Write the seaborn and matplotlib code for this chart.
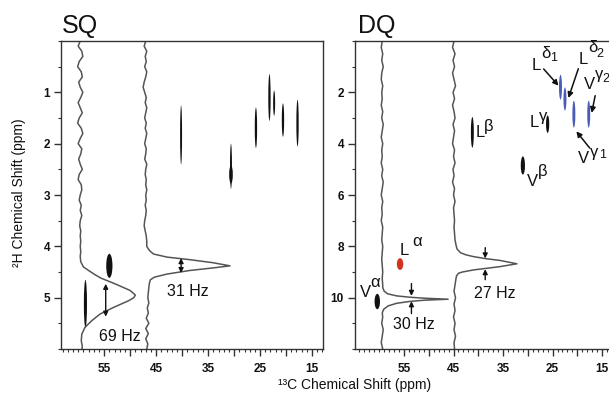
import numpy as np
import pandas as pd
import matplotlib
matplotlib.use("Agg")
import matplotlib.pyplot as plt
import seaborn as sns
from matplotlib.patches import Ellipse
from matplotlib.ticker import MultipleLocator, FixedLocator, FuncFormatter

# ---------------- data ----------------
# SQ panel, 1D slice traces: y = 2H shift (ppm), x = drawn 13C position (ppm)
sq1_y = [0.0, 0.1, 0.2, 0.3, 0.4, 0.5, 0.6, 0.7, 0.8, 0.9, 1.0, 1.1, 1.2, 1.3, 1.4,
         1.5, 1.6, 1.7, 1.8, 1.9, 2.0, 2.1, 2.2, 2.3, 2.4, 2.5, 2.6, 2.7, 2.8, 2.9,
         3.0, 3.1, 3.2, 3.3, 3.4, 3.5, 3.6, 3.7, 3.8, 3.9, 4.0, 4.1, 4.2,
         4.30, 4.40, 4.47, 4.55, 4.62, 4.73, 4.86, 4.95, 5.00, 5.06, 5.19, 5.32,
         5.45, 5.58, 5.71, 5.84, 5.95, 6.02]
sq1_x = [59.6, 60.0, 59.3, 59.1, 59.8, 60.1, 59.4, 59.2, 59.9, 59.6, 59.1, 59.5, 60.0,
         59.6, 59.2, 59.8, 60.1, 59.4, 59.1, 59.6, 60.0, 59.3, 59.5, 59.9, 59.6, 59.2,
         59.8, 60.0, 59.4, 59.3, 59.6, 59.8, 59.4, 59.6, 59.3, 59.6, 59.7, 59.5, 59.6,
         59.5, 59.6, 59.5, 59.6,
         59.5, 59.0, 58.0, 56.8, 55.6, 52.9, 50.0, 49.0, 49.3, 50.3, 53.2, 55.8,
         57.4, 58.7, 59.3, 59.4, 59.2, 59.3]

sq2_y = [0.0, 0.1, 0.2, 0.3, 0.4, 0.5, 0.6, 0.7, 0.8, 0.9, 1.0, 1.1, 1.2, 1.3, 1.4,
         1.5, 1.6, 1.7, 1.8, 1.9, 2.0, 2.1, 2.2, 2.3, 2.4, 2.5, 2.6, 2.7, 2.8, 2.9,
         3.0, 3.1, 3.2, 3.3, 3.4, 3.5, 3.6, 3.7, 3.8, 3.9,
         4.00, 4.05, 4.10, 4.15, 4.21, 4.26, 4.32, 4.38, 4.42, 4.47, 4.54, 4.60,
         4.65, 4.72, 4.80,
         4.9, 5.0, 5.1, 5.2, 5.3, 5.4, 5.5, 5.6, 5.7, 5.8, 5.9, 6.0]
sq2_x = [47.0, 47.3, 46.8, 47.1, 46.9, 47.2, 46.8, 47.0, 47.3, 47.5, 47.2, 46.9, 47.1,
         46.8, 47.0, 47.2, 46.9, 47.1, 46.8, 47.0, 47.2, 46.9, 47.0, 47.2, 46.8, 47.0,
         47.1, 46.9, 47.0, 46.8, 47.0, 46.9, 47.1, 46.9, 47.0, 47.2, 47.3, 47.1, 46.9,
         46.8,
         46.8, 46.5, 46.1, 45.5, 42.9, 38.5, 34.0, 30.8, 34.0, 38.5, 42.9, 45.3,
         46.1, 46.3, 46.4,
         46.5, 46.6, 46.4, 46.7, 46.5, 46.9, 46.4, 47.0, 46.5, 47.0, 46.6, 46.8]

# DQ panel traces
dq1_y = [0.0, 0.25, 0.5, 0.75, 1.0, 1.25, 1.5, 1.75, 2.0, 2.25, 2.5, 2.75, 3.0, 3.25,
         3.5, 3.75, 4.0, 4.25, 4.5, 4.75, 5.0, 5.25, 5.5, 5.75, 6.0, 6.25, 6.5, 6.75,
         7.0, 7.25, 7.5, 7.75, 8.0, 8.25, 8.5, 8.75, 9.0, 9.25, 9.5,
         9.60, 9.75, 9.85, 9.93, 9.98, 10.02, 10.06, 10.10, 10.15, 10.22, 10.32,
         10.45, 10.60,
         10.75, 11.0, 11.25, 11.5, 11.75, 12.0]
dq1_x = [59.4, 59.6, 59.3, 59.5, 59.2, 59.5, 59.6, 59.3, 59.5, 59.4, 59.6, 59.3, 59.5,
         59.2, 59.4, 59.6, 59.3, 59.5, 59.4, 59.6, 59.3, 59.5, 59.2, 59.4, 59.6, 59.3,
         59.5, 59.4, 59.6, 59.3, 59.4, 59.5, 59.3, 59.4, 59.5, 59.4, 59.3, 59.4, 59.3,
         59.3, 59.0, 58.3, 56.5, 54.0, 51.0, 46.1, 51.0, 54.0, 56.5, 58.2,
         59.1, 59.4,
         59.3, 59.5, 59.2, 59.4, 59.6, 59.3]

dq2_y = [0.0, 0.25, 0.5, 0.75, 1.0, 1.25, 1.5, 1.75, 2.0, 2.25, 2.5, 2.75, 3.0, 3.25,
         3.5, 3.75, 4.0, 4.25, 4.5, 4.75, 5.0, 5.25, 5.5, 5.75, 6.0, 6.25, 6.5, 6.75,
         7.0, 7.25, 7.5,
         7.75, 7.95, 8.10, 8.25, 8.33, 8.40, 8.48, 8.55, 8.68, 8.79, 8.86, 8.92, 9.00,
         9.05, 9.15, 9.25,
         9.5, 9.75, 10.0, 10.25, 10.5, 10.75, 11.0, 11.25, 11.5, 11.75, 12.0]
dq2_x = [44.9, 45.2, 44.7, 45.1, 44.8, 45.2, 44.9, 44.6, 45.1, 44.8, 45.2, 44.9, 44.7,
         45.1, 44.8, 45.0, 45.2, 44.8, 45.0, 44.7, 45.1, 44.9, 45.2, 44.8, 45.0, 44.7,
         45.0, 44.9, 44.8, 44.9, 44.8,
         44.7, 44.5, 44.3, 43.6, 42.5, 41.0, 38.5, 35.6, 32.2, 35.6, 38.5, 41.0, 43.2,
         44.0, 44.4, 44.5,
         44.7, 44.9, 44.6, 44.9, 44.7, 45.0, 44.7, 44.9, 44.6, 44.9, 44.8]

# cross peaks: centre (13C, 2H), extent (ppm)
sq_pk_x = [58.6, 54.0, 40.2, 30.6, 30.6, 25.8, 23.2, 22.3, 20.6, 17.8]
sq_pk_y = [5.12, 4.38, 1.83, 2.44, 2.60, 1.69, 1.10, 1.21, 1.54, 1.60]
sq_pk_w = [0.6, 1.2, 0.38, 0.38, 0.7, 0.45, 0.45, 0.38, 0.45, 0.45]
sq_pk_h = [0.93, 0.47, 1.15, 0.88, 0.35, 0.79, 0.91, 0.49, 0.65, 0.91]

dq_pk_x = [60.4, 55.8, 41.2, 26.0, 31.0, 23.4, 22.5, 20.7, 17.7]
dq_pk_y = [10.15, 8.69, 3.56, 3.24, 4.85, 1.80, 2.26, 2.85, 2.85]
dq_pk_w = [1.1, 1.3, 0.6, 0.65, 0.85, 0.6, 0.6, 0.6, 0.6]
dq_pk_h = [0.60, 0.46, 1.20, 0.68, 0.71, 0.97, 0.90, 1.05, 1.05]
dq_pk_c = ["#111111", "#d3321f", "#111111", "#111111", "#111111",
           "#4a5cb8", "#4a5cb8", "#4a5cb8", "#4a5cb8"]

# peak labels in DQ panel
dq_lab_t = ["V", "α", "L", "α", "L", "β", "L", "γ", "V", "β",
            "L", "δ", "1", "L", "δ", "2", "V", "γ", "2", "V", "γ", "1"]
dq_lab_x = [62.7, 60.8, 54.9, 52.4, 39.6, 38.0, 28.8, 26.9, 29.1, 27.0,
            28.2, 26.3, 24.9, 18.9, 16.8, 15.4, 17.5, 15.6, 14.3, 18.8, 16.6, 14.9]
dq_lab_y = [9.79, 9.40, 8.17, 7.81, 3.55, 3.32, 3.19, 2.95, 5.47, 5.08,
            0.95, 0.49, 0.68, 0.71, 0.25, 0.49, 1.70, 1.31, 1.50, 4.59, 4.33, 4.46]
dq_lab_s = [12, 12, 12, 12, 12, 12, 12, 12, 12, 12,
            12, 12, 9, 12, 12, 9, 12, 12, 9, 12, 12, 9]

# pointer arrows (tail -> head)
dq_ptr = [((26.8, 1.09), (23.8, 1.74)), ((19.8, 1.08), (21.8, 2.22)),
          ((16.4, 2.13), (17.1, 2.80)), ((17.5, 4.17), (20.2, 3.52))]

# linewidth markers
sq_hz_text = ["69 Hz", "31 Hz"]
sq_hz_tx = [51.9, 38.9]
sq_hz_ty = [5.75, 4.88]
sq_hz_ax = [54.7, 40.2]
sq_hz_a0 = [4.73, 4.23]
sq_hz_a1 = [5.37, 4.52]

dq_hz_text = ["30 Hz", "27 Hz"]
dq_hz_tx = [53.1, 36.6]
dq_hz_ty = [11.05, 9.83]
dq_hz_ax = [53.5, 38.6]
dq_hz_top = [(9.45, 9.93), (8.05, 8.47)]
dq_hz_bot = [(10.62, 10.14), (9.30, 8.89)]

# ---------------- style ----------------
sns.set_theme(style="ticks")
plt.rcParams["font.family"] = ["Liberation Sans", "DejaVu Sans"]
plt.rcParams["axes.edgecolor"] = "#333333"
plt.rcParams["axes.linewidth"] = 1.0

fig = plt.figure(figsize=(6.09, 3.95), dpi=100)
W, H = 609.0, 395.0
ax1 = fig.add_axes([61 / W, 1 - 349 / H, 262 / W, 308 / H])
ax2 = fig.add_axes([355 / W, 1 - 349 / H, 257 / W, 308 / H])

trace_col = "#555555"


def draw_trace(ax, xs, ys):
    df = pd.DataFrame({"c13": xs, "h2": ys})
    sns.lineplot(data=df, x="c13", y="h2", sort=False, estimator=None, orient="y",
                 ax=ax, color=trace_col, lw=1.1)


draw_trace(ax1, sq1_x, sq1_y)
draw_trace(ax1, sq2_x, sq2_y)
draw_trace(ax2, dq1_x, dq1_y)
draw_trace(ax2, dq2_x, dq2_y)

for x, y, w, h in zip(sq_pk_x, sq_pk_y, sq_pk_w, sq_pk_h):
    ax1.add_patch(Ellipse((x, y), w, h, facecolor="#111111", edgecolor="none"))
for x, y, w, h, c in zip(dq_pk_x, dq_pk_y, dq_pk_w, dq_pk_h, dq_pk_c):
    ax2.add_patch(Ellipse((x, y), w, h, facecolor=c, edgecolor="none"))

for t, x, y, s in zip(dq_lab_t, dq_lab_x, dq_lab_y, dq_lab_s):
    ax2.text(x, y, t, fontsize=s, ha="center", va="center", color="#111111", clip_on=False)

ptr_props = dict(arrowstyle="-|>", color="#111111", lw=1.1, mutation_scale=8,
                 shrinkA=0, shrinkB=0)
for tail, head in dq_ptr:
    ax2.annotate("", xy=head, xytext=tail, arrowprops=ptr_props)

dbl = dict(arrowstyle="<|-|>", color="#111111", lw=1.0, mutation_scale=7,
           shrinkA=0, shrinkB=0)
for t, tx, ty, axx, a0, a1 in zip(sq_hz_text, sq_hz_tx, sq_hz_ty, sq_hz_ax, sq_hz_a0, sq_hz_a1):
    ax1.annotate("", xy=(axx, a1), xytext=(axx, a0), arrowprops=dbl)
    ax1.text(tx, ty, t, fontsize=11.5, ha="center", va="center", color="#111111")

single = dict(arrowstyle="-|>", color="#111111", lw=1.0, mutation_scale=7,
              shrinkA=0, shrinkB=0)
for t, tx, ty, axx, top, bot in zip(dq_hz_text, dq_hz_tx, dq_hz_ty, dq_hz_ax, dq_hz_top, dq_hz_bot):
    ax2.annotate("", xy=(axx, top[1]), xytext=(axx, top[0]), arrowprops=single)
    ax2.annotate("", xy=(axx, bot[1]), xytext=(axx, bot[0]), arrowprops=single)
    ax2.text(tx, ty, t, fontsize=11.5, ha="center", va="center", color="#111111")

# ---------------- axes ----------------
x_major = [55, 50, 45, 40, 35, 30, 25, 20, 15]
x_labeled = [55, 45, 35, 25, 15]
fmt = FuncFormatter(lambda v, p: f"{int(round(v))}" if int(round(v)) in x_labeled else "")

for ax in (ax1, ax2):
    ax.set_xlabel("")
    ax.set_ylabel("")
    ax.xaxis.set_major_locator(FixedLocator(x_major))
    ax.xaxis.set_major_formatter(fmt)
    ax.xaxis.set_minor_locator(MultipleLocator(1))
    ax.tick_params(axis="both", which="major", direction="out", length=5, width=1.0,
                   color="#333333", labelsize=8.5, labelcolor="#111111")
    ax.tick_params(axis="both", which="minor", direction="out", length=2.5, width=0.8,
                   color="#333333")
    ax.tick_params(axis="x", which="major", pad=5)
    ax.tick_params(axis="y", which="major", pad=3)
    ax.set_facecolor("white")

ax1.set_xlim(63.3, 12.9)
ax1.set_ylim(6.0, 0.0)
ax1.yaxis.set_major_locator(FixedLocator([1, 2, 3, 4, 5]))
ax1.yaxis.set_minor_locator(MultipleLocator(0.5))

ax2.set_xlim(64.9, 13.0)
ax2.set_ylim(12.0, 0.0)
ax2.yaxis.set_major_locator(FixedLocator([2, 4, 6, 8, 10]))
ax2.yaxis.set_minor_locator(MultipleLocator(1))

for ax in (ax1, ax2):
    for lab in ax.get_xticklabels() + ax.get_yticklabels():
        lab.set_fontweight("bold")

fig.text(62 / W, 1 - 33 / H, "SQ", fontsize=18, ha="left", va="baseline", color="#111111")
fig.text(358 / W, 1 - 33 / H, "DQ", fontsize=18, ha="left", va="baseline", color="#111111")
fig.text(355 / W, 1 - 385 / H, "¹³C Chemical Shift (ppm)", fontsize=10, ha="center",
         va="center", color="#111111")
fig.text(19 / W, 1 - 193 / H, "²H Chemical Shift (ppm)", fontsize=10, ha="center",
         va="center", rotation=90, color="#111111")

fig.savefig("out.png", dpi=100, facecolor="white")
